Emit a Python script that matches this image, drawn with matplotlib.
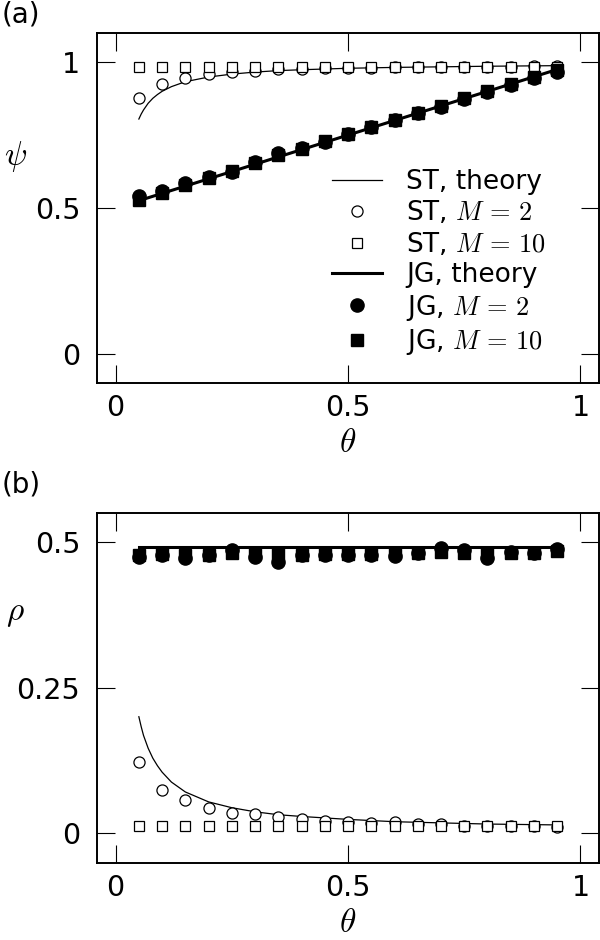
import matplotlib
matplotlib.use("Agg")
import matplotlib.pyplot as plt
import numpy as np

plt.rcParams['font.family'] = ['DejaVu Sans']
plt.rcParams['mathtext.fontset'] = 'cm'

# theta values of simulation points
theta = [0.05, 0.10, 0.15, 0.20, 0.25, 0.30, 0.35, 0.40, 0.45, 0.50,
         0.55, 0.60, 0.65, 0.70, 0.75, 0.80, 0.85, 0.90, 0.95]

# (a) psi
st_th_x = [0.05, 0.055, 0.06, 0.07, 0.08, 0.09, 0.10, 0.12, 0.15, 0.20,
           0.25, 0.30, 0.35, 0.40, 0.50, 0.60, 0.70, 0.80, 0.95]
psi_st_theory = [0.805, 0.822, 0.836, 0.859, 0.876, 0.889, 0.900, 0.916, 0.933, 0.949,
                 0.959, 0.966, 0.971, 0.974, 0.979, 0.982, 0.984, 0.986, 0.988]
psi_st_m2 = [0.877, 0.926, 0.945, 0.958, 0.965, 0.971, 0.975, 0.977, 0.979, 0.980,
             0.981, 0.982, 0.983, 0.984, 0.984, 0.985, 0.985, 0.986, 0.986]
psi_st_m10 = [0.982, 0.982, 0.982, 0.983, 0.983, 0.983, 0.983, 0.983, 0.984, 0.984,
              0.984, 0.984, 0.984, 0.984, 0.985, 0.985, 0.985, 0.985, 0.985]
jg_th_x = [0.05, 0.95]
psi_jg_theory = [0.525, 0.975]
psi_jg_m2 = [0.542, 0.558, 0.587, 0.607, 0.624, 0.659, 0.688, 0.707, 0.727, 0.753,
             0.776, 0.801, 0.824, 0.845, 0.872, 0.898, 0.921, 0.944, 0.967]
psi_jg_m10 = [0.527, 0.553, 0.579, 0.604, 0.628, 0.654, 0.680, 0.703, 0.728, 0.752,
              0.777, 0.802, 0.826, 0.851, 0.876, 0.900, 0.925, 0.950, 0.972]

# (b) rho
rho_st_theory = [0.200, 0.183, 0.168, 0.146, 0.129, 0.116, 0.105, 0.088, 0.071, 0.054,
                 0.044, 0.037, 0.032, 0.029, 0.024, 0.020, 0.018, 0.016, 0.0145]
rho_st_m2 = [0.122, 0.075, 0.057, 0.043, 0.035, 0.033, 0.028, 0.025, 0.022, 0.019,
             0.017, 0.019, 0.016, 0.016, 0.013, 0.013, 0.013, 0.013, 0.011]
rho_st_m10 = [0.012, 0.012, 0.012, 0.012, 0.012, 0.012, 0.012, 0.012, 0.012, 0.012,
              0.012, 0.012, 0.012, 0.012, 0.012, 0.012, 0.012, 0.012, 0.012]
jg_rho_theory = [0.491, 0.491]
rho_jg_m2 = [0.473, 0.478, 0.472, 0.477, 0.486, 0.473, 0.465, 0.478, 0.478, 0.478,
             0.478, 0.476, 0.480, 0.490, 0.485, 0.472, 0.482, 0.480, 0.487]
rho_jg_m10 = [0.478, 0.479, 0.478, 0.478, 0.481, 0.479, 0.479, 0.478, 0.479, 0.479,
              0.479, 0.480, 0.481, 0.483, 0.481, 0.480, 0.481, 0.480, 0.484]

fig = plt.figure(figsize=(6, 9.4), dpi=100)
ax1 = fig.add_axes([0.1617, 0.5926, 0.8367, 0.3723])
ax2 = fig.add_axes([0.1617, 0.0824, 0.8367, 0.3723])


def draw(ax, st_th, st2, st10, jg_th, jg2, jg10):
    ax.plot(st_th_x, st_th, '-', color='black', lw=0.9, label='ST, theory')
    ax.plot(theta, st2, 'o', mfc='white', mec='black', mew=0.9, ms=8, ls='none', label='ST, $M\\,=\\,2$')
    ax.plot(theta, st10, 's', mfc='white', mec='black', mew=0.9, ms=7.5, ls='none', label='ST, $M\\,=\\,10$')
    ax.plot(jg_th_x, jg_th, '-', color='black', lw=2.2, label='JG, theory')
    ax.plot(theta, jg2, 'o', color='black', ms=9.5, ls='none', label='JG, $M\\,=\\,2$')
    ax.plot(theta, jg10, 's', color='black', ms=8, ls='none', label='JG, $M\\,=\\,10$')
    ax.set_xlim(-0.04, 1.04)
    ax.set_xticks([0, 0.5, 1])
    ax.set_xticklabels(['0', '0.5', '1'])
    ax.tick_params(direction='in', length=13, width=0.8, top=True, right=True,
                   labelsize=20.5)
    ax.tick_params(axis='x', pad=8)
    ax.tick_params(axis='y', pad=12)
    for s in ax.spines.values():
        s.set_linewidth(1.4)
    ax.set_xlabel(r'$\theta$', fontsize=24, labelpad=3)


draw(ax1, psi_st_theory, psi_st_m2, psi_st_m10, psi_jg_theory, psi_jg_m2, psi_jg_m10)
ax1.set_ylim(-0.1, 1.1)
ax1.set_yticks([0, 0.5, 1])
ax1.set_yticklabels(['0', '0.5', '1'])
ax1.set_ylabel(r'$\psi$', fontsize=24, rotation=0, va='center', ha='center')
ax1.yaxis.set_label_coords(-0.163, 0.646)

leg = ax1.legend(loc='upper left', bbox_to_anchor=(0.468, 0.612), frameon=False,
                 fontsize=19, numpoints=1, handlelength=1.9, handletextpad=0.9,
                 labelspacing=0.17, borderpad=0, borderaxespad=0)

draw(ax2, rho_st_theory, rho_st_m2, rho_st_m10, jg_rho_theory, rho_jg_m2, rho_jg_m10)
ax2.set_ylim(-0.05, 0.55)
ax2.set_yticks([0, 0.25, 0.5])
ax2.set_yticklabels(['0', '0.25', '0.5'])
ax2.set_ylabel(r'$\rho$', fontsize=24, rotation=0, va='center', ha='center')
ax2.yaxis.set_label_coords(-0.163, 0.714)

fig.text(0.003, 0.999, '(a)', fontsize=20, ha='left', va='top')
fig.text(0.003, 0.500, '(b)', fontsize=20, ha='left', va='top')

fig.savefig('out.png', dpi=100)
